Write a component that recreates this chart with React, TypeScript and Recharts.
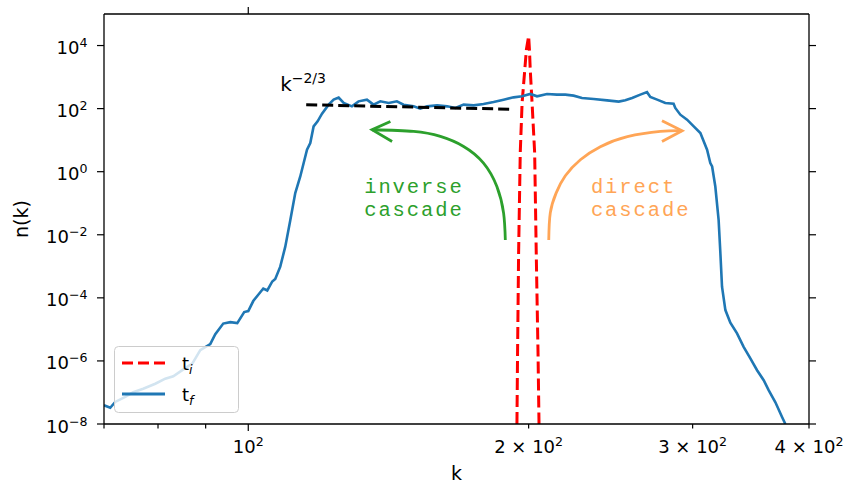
import React from 'react';
import { ComposedChart, Line, XAxis, YAxis, Legend, ReferenceDot } from 'recharts';

const W = 847;
const H = 484;
const FONT = 'DejaVu Sans';
const MONO = 'Liberation Mono';

// ---- series: t_i (initial spectrum) ----
const kInitial = [194.3, 194.6, 195.1, 195.9, 196.8, 198.1, 198.9, 200.0, 200.4, 200.8, 201.7, 203.0, 203.8, 204.7, 205.2];
const nInitial = [1e-8, 1.8e-6, 2.6e-3, 4.0, 155, 1700, 7460, 2.0e4, 7460, 1700, 155, 4.0, 2.6e-3, 1.8e-6, 1e-8];

// ---- series: t_f (final spectrum) ----
const kFinal = [
  70.0, 71.09, 71.97, 73.78, 75.25, 77.13, 79.46, 81.45, 83.08, 84.95,
  87.08, 88.81, 91.03, 92.17, 94.0, 95.65, 97.32, 99.0, 100.0, 101.24,
  103.78, 104.81, 106.11, 106.9, 108.23, 109.58, 110.96, 112.32, 113.72, 115.63,
  116.57, 117.53, 118.7, 120.0, 121.98, 123.5, 125.04, 126.6, 129.2, 131.35,
  134.1, 136.3, 138.6, 141.5, 144.4, 146.8, 150.5, 153.0, 155.6, 159.5,
  163.5, 166.9, 170.3, 174.6, 178.9, 183.4, 188.0, 192.7, 196.8, 200.8,
  204.2, 209.3, 214.5, 219.0, 223.5, 228.2, 234.9, 242.8, 249.9, 254.0,
  258.3, 263.6, 268.0, 270.2, 274.8, 280.4, 286.2, 287.4, 291.0, 295.9,
  300.8, 305.8, 310.9, 313.4, 314.8, 317.3, 319.9, 321.3, 322.6, 325.3,
  329.3, 334.8, 340.3, 346.0, 351.8, 357.6, 362.0, 368.1, 374.2, 377.3,
];
const nFinal = [
  3.93e-8, 3.27e-8, 5.0e-8, 7.2e-8, 1.02e-7, 1.31e-7, 1.89e-7, 2.73e-7, 3.27e-7, 5.08e-7,
  8.18e-7, 2.2e-6, 3.4e-6, 7.08e-6, 1.53e-5, 1.7e-5, 1.58e-5, 3.54e-5, 3.81e-5, 7.91e-5,
  1.97e-4, 1.71e-4, 3.3e-4, 3.95e-4, 9.73e-4, 4.21e-3, 2.96e-2, 0.209, 0.705, 4.96,
  8.1, 27.3, 39.4, 69.1, 133.5, 192.5, 222.8, 151.2, 117.9, 170,
  192.5, 133.5, 170, 151, 170, 133.5, 118, 99.6, 118, 127,
  118, 105, 133.5, 127, 140.5, 162.7, 192.5, 227.8, 245, 292,
  245, 292, 277.5, 277.5, 257.8, 218, 202.6, 182.9, 166.3, 183,
  218, 277.5, 333, 234.5, 192.5, 151, 143.6, 105, 64.2, 44.6,
  27.3, 16.8, 4.96, 1.88, 1.46, 0.339, 2.96e-2, 2.59e-3, 2.25e-4, 4.09e-5,
  1.64e-5, 7.45e-6, 2.8e-6, 1.2e-6, 5.08e-7, 2.44e-7, 1.18e-7, 4.89e-8, 1.67e-8, 1.0e-8,
];

// ---- k^{-2/3} guide ----
const kSlope = [115.4, 192.6];
const nSlope = [133, 95];

// ---- annotation arrows (data coordinates) ----
const kInverseArc = [188.8, 188.0, 184.9, 178.9, 170.3, 160.8, 150.5, 135.8];
const nInverseArc = [6.86e-3, 4.84e-2, 0.339, 1.876, 6.32, 13.1, 18.9, 21.4];
const kInverseHead = [142.1, 135.8, 142.7];
const nInverseHead = [39.3, 21.4, 9.11];
const kDirectArc = [210.2, 211.0, 214.1, 219.0, 227.3, 238.8, 255.3, 277.0, 292.3];
const nDirectArc = [6.86e-3, 4.95e-2, 0.2136, 0.741, 2.39, 6.18, 12.85, 18.9, 19.9];
const kDirectHead = [278.1, 292.3, 278.1];
const nDirectHead = [41.4, 19.9, 9.11];

// ---- annotation texts (anchors in data coordinates) ----
const inverseLines = ['inverse', 'cascade'];
const directLines = ['direct', 'cascade'];
const textLineN = [0.209, 0.0386];

// ---- ticks ----
const kTicks = [70, 80, 90, 100, 200, 300, 400];
const kTickLabels: Record<number, string> = { 100: '10', 200: '2 × 10', 300: '3 × 10', 400: '4 × 10' };
const nTicks = [1e-8, 1e-6, 1e-4, 1e-2, 1, 1e2, 1e4];

const legendItems = [
  { sub: 'i', color: '#ff0000', dashed: true },
  { sub: 'f', color: '#1f77b4', dashed: false },
];

const GREEN = '#2ca02c';
const ORANGE = '#ffa556';

const zip = (ks: number[], ns: number[]) => ks.map((k, i) => ({ k, n: ns[i] }));

const expLabel = (v: number) => {
  const e = Math.round(Math.log10(v));
  return e < 0 ? '\u2212' + String(-e) : String(e);
};

const BottomTick = (p: any) => {
  const { x, y, payload } = p;
  const v = payload.value;
  const len = v === 100 ? 7 : 4.5;
  const lab = kTickLabels[v];
  return (
    <g>
      <line x1={x} x2={x} y1={y} y2={y + len} stroke="#000" strokeWidth={1.2} />
      {lab ? (
        <text x={x} y={y + 29} textAnchor="middle" fontFamily={FONT} fontSize={18} fill="#000">
          {lab}
          <tspan fontSize={12.6} dy={-7}>2</tspan>
        </text>
      ) : null}
    </g>
  );
};

const TopTick = (p: any) => {
  const { x, y } = p;
  return <line x1={x} x2={x} y1={y} y2={y - 7} stroke="#000" strokeWidth={1.2} />;
};

const LeftTick = (p: any) => {
  const { x, y, payload } = p;
  return (
    <g>
      <line x1={x - 7} x2={x} y1={y} y2={y} stroke="#000" strokeWidth={1.2} />
      <text x={x - 16.5} y={y + 8.5} textAnchor="end" fontFamily={FONT} fontSize={18} fill="#000">
        10
        <tspan fontSize={12.6} dy={-7}>{expLabel(payload.value)}</tspan>
      </text>
    </g>
  );
};

const RightTick = (p: any) => {
  const { x, y } = p;
  return <line x1={x} x2={x + 7} y1={y} y2={y} stroke="#000" strokeWidth={1.2} />;
};

const LegendBox = () => (
  <svg width={125} height={67} style={{ display: 'block' }}>
    <rect x={0.5} y={0.5} width={124} height={66} rx={4} ry={4} fill="rgba(255,255,255,0.8)" stroke="#cccccc" strokeWidth={1} />
    {legendItems.map((it, i) => {
      const cy = 17 + i * 31;
      return (
        <g key={it.sub}>
          <line x1={8} x2={51} y1={cy} y2={cy} stroke={it.color} strokeWidth={3} strokeDasharray={it.dashed ? '11 5' : undefined} />
          <text x={68} y={cy + 6.5} fontFamily={FONT} fontSize={18} fill="#000">
            t
            <tspan fontStyle="italic" fontSize={12.6} dy={4}>{it.sub}</tspan>
          </text>
        </g>
      );
    })}
  </svg>
);

const MonoText = (color: string, text: string) => (p: any) => (
  <text x={p.cx} y={p.cy} fontFamily={MONO} fontSize={20.5} letterSpacing={1.9} fill={color}>
    {text}
  </text>
);

const axisLineStyle = { stroke: '#000', strokeWidth: 1.3 };

export default function App() {
  return (
    <div style={{ position: 'absolute', left: 0, top: 0, width: W, height: H, background: '#fff' }}>
      <ComposedChart width={W} height={H} margin={{ top: 0, right: 0, bottom: 0, left: 0 }}>
        <XAxis
          dataKey="k"
          type="number"
          scale="log"
          domain={[70, 400]}
          allowDataOverflow
          ticks={kTicks}
          interval={0}
          tickSize={0}
          tickMargin={0}
          tickLine={false}
          axisLine={axisLineStyle}
          height={60}
          tick={(p: any) => <BottomTick {...p} />}
          label={{ value: 'k', position: 'insideBottom', offset: 4, style: { fontFamily: FONT, fontSize: 19, fill: '#000' } }}
        />
        <XAxis
          xAxisId="top"
          orientation="top"
          dataKey="k"
          type="number"
          scale="log"
          domain={[70, 400]}
          allowDataOverflow
          ticks={[100]}
          interval={0}
          tickSize={0}
          tickMargin={0}
          tickLine={false}
          axisLine={axisLineStyle}
          height={14}
          tick={(p: any) => <TopTick {...p} />}
        />
        <YAxis
          type="number"
          scale="log"
          domain={[1e-8, 1e5]}
          allowDataOverflow
          ticks={nTicks}
          interval={0}
          tickSize={0}
          tickMargin={0}
          tickLine={false}
          axisLine={axisLineStyle}
          width={104}
          tick={(p: any) => <LeftTick {...p} />}
          label={{ value: 'n(k)', angle: -90, position: 'insideLeft', offset: 21, style: { textAnchor: 'middle', fontFamily: FONT, fontSize: 19, fill: '#000' } }}
        />
        <YAxis
          yAxisId="right"
          orientation="right"
          type="number"
          scale="log"
          domain={[1e-8, 1e5]}
          allowDataOverflow
          ticks={nTicks}
          interval={0}
          tickSize={0}
          tickMargin={0}
          tickLine={false}
          axisLine={axisLineStyle}
          width={38}
          tick={(p: any) => <RightTick {...p} />}
        />
        <Legend
          layout="vertical"
          align="center"
          verticalAlign="middle"
          wrapperStyle={{ position: 'absolute', left: 114, top: 346, width: 125, height: 67, margin: 0 }}
          content={() => <LegendBox />}
        />
        <Line data={zip(kInitial, nInitial)} dataKey="n" name="t_i" type="linear" stroke="#ff0000" strokeWidth={3} strokeDasharray="12 5" dot={false} activeDot={false} isAnimationActive={false} />
        <Line data={zip(kFinal, nFinal)} dataKey="n" name="t_f" type="linear" stroke="#1f77b4" strokeWidth={2.6} dot={false} activeDot={false} isAnimationActive={false} />
        <Line data={zip(kSlope, nSlope)} dataKey="n" name="slope" legendType="none" type="linear" stroke="#000" strokeWidth={3} strokeDasharray="11 5" dot={false} activeDot={false} isAnimationActive={false} />
        <Line data={zip(kInverseArc, nInverseArc)} dataKey="n" name="inv" legendType="none" type="natural" stroke={GREEN} strokeWidth={2.8} dot={false} activeDot={false} isAnimationActive={false} />
        <Line data={zip(kInverseHead, nInverseHead)} dataKey="n" name="invh" legendType="none" type="linear" stroke={GREEN} strokeWidth={2.8} dot={false} activeDot={false} isAnimationActive={false} />
        <Line data={zip(kDirectArc, nDirectArc)} dataKey="n" name="dir" legendType="none" type="natural" stroke={ORANGE} strokeWidth={2.8} dot={false} activeDot={false} isAnimationActive={false} />
        <Line data={zip(kDirectHead, nDirectHead)} dataKey="n" name="dirh" legendType="none" type="linear" stroke={ORANGE} strokeWidth={2.8} dot={false} activeDot={false} isAnimationActive={false} />
        <ReferenceDot
          x={108.2}
          y={353}
          r={0}
          shape={(p: any) => (
            <text x={p.cx} y={p.cy} fontFamily={FONT} fontSize={20} fill="#000">
              k
              <tspan fontSize={14} dy={-8}>−2/3</tspan>
            </text>
          )}
        />
        {inverseLines.map((t, i) => (
          <ReferenceDot key={'inv' + i} x={133.2} y={textLineN[i]} r={0} shape={MonoText(GREEN, t)} />
        ))}
        {directLines.map((t, i) => (
          <ReferenceDot key={'dir' + i} x={233.3} y={textLineN[i]} r={0} shape={MonoText(ORANGE, t)} />
        ))}
      </ComposedChart>
    </div>
  );
}
